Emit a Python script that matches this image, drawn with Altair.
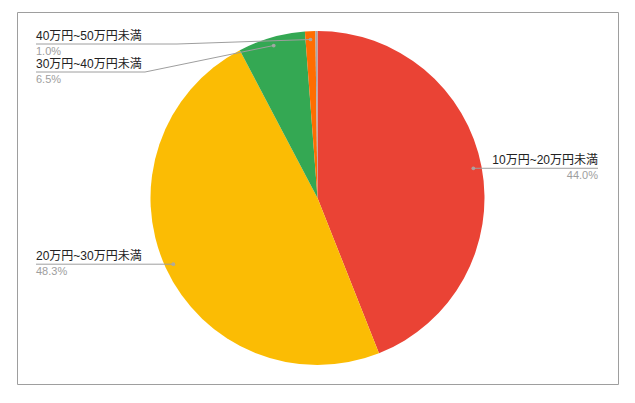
import math

import altair as alt
import pandas as pd

CATEGORIES = [
    "10万円~20万円未満",
    "20万円~30万円未満",
    "30万円~40万円未満",
    "40万円~50万円未満",
    "50万円以上",
]
SHARES = [44.0, 48.3, 6.5, 1.0, 0.2]
COLOURS = ["#EA4335", "#FBBC04", "#34A853", "#FF6D01", "#A3A9AD"]

# label layout: which side, and (for the crowded top-left ones) where the label line sits
SIDES = ["right", "left", "left", "left", None]
LABEL_Y = [None, None, 60, 32, None]
ELBOW_X = [None, None, 128, 160, None]

W, H = 601, 372
R = 167
CX, CY = W / 2, H / 2
LEFT_X, RIGHT_X = 19, 581
FONT = "'Liberation Sans', Arial, 'Noto Sans CJK JP', sans-serif"


def build_frames():
    slices = pd.DataFrame(
        {"Kategori": CATEGORIES, "Andel": SHARES, "Rekkefølge": range(len(SHARES))}
    )

    labels, segments = [], []
    cum = 0.0
    for cat, share, side, ly, ex in zip(CATEGORIES, SHARES, SIDES, LABEL_Y, ELBOW_X):
        mid = 2 * math.pi * (cum + share / 2) / 100
        cum += share
        if side is None:
            continue
        dx = CX + 0.95 * R * math.sin(mid)
        dy = CY - 0.95 * R * math.cos(mid)
        line_y = dy if ly is None else ly
        text_x = RIGHT_X if side == "right" else LEFT_X
        elbow_x = dx if ex is None else ex
        labels.append(
            {
                "Kategori": cat,
                "Prosent": f"{share:.1f}%",
                "dot_x": dx,
                "dot_y": dy,
                "tx": text_x,
                "ty": line_y,
                "side": side,
            }
        )
        segments.append({"x": text_x, "y": line_y, "x2": elbow_x, "y2": line_y})
        segments.append({"x": elbow_x, "y": line_y, "x2": dx, "y2": dy})
    return slices, pd.DataFrame(labels), pd.DataFrame(segments)


def plot_pie(slices, labels, segments):
    xs = alt.Scale(domain=[0, W], range=[0, W], nice=False, zero=False)
    ys = alt.Scale(domain=[0, H], range=[0, H], nice=False, zero=False)

    pie = (
        alt.Chart(slices)
        .mark_arc(radius=R)
        .encode(
            theta=alt.Theta("Andel:Q", stack=True),
            order=alt.Order("Rekkefølge:Q"),
            color=alt.Color(
                "Kategori:N",
                scale=alt.Scale(domain=CATEGORIES, range=COLOURS),
                legend=None,
            ),
        )
    )

    rules = (
        alt.Chart(segments)
        .mark_rule(color="#9e9e9e", strokeWidth=1)
        .encode(
            x=alt.X("x:Q", scale=xs, axis=None),
            y=alt.Y("y:Q", scale=ys, axis=None),
            x2="x2:Q",
            y2="y2:Q",
        )
    )

    dots = (
        alt.Chart(labels)
        .mark_circle(size=14, color="#a8a8a8", opacity=0.9)
        .encode(
            x=alt.X("dot_x:Q", scale=xs, axis=None),
            y=alt.Y("dot_y:Q", scale=ys, axis=None),
        )
    )

    layers = [pie, rules, dots]
    for side, align in (("left", "left"), ("right", "right")):
        part = labels[labels["side"] == side]
        base = alt.Chart(part).encode(
            x=alt.X("tx:Q", scale=xs, axis=None),
            y=alt.Y("ty:Q", scale=ys, axis=None),
        )
        layers.append(
            base.mark_text(
                align=align, baseline="alphabetic", dy=-4, font=FONT,
                fontSize=12, color="#222222",
            ).encode(text="Kategori:N")
        )
        layers.append(
            base.mark_text(
                align=align, baseline="alphabetic", dy=11, font=FONT,
                fontSize=11, color="#9e9e9e",
            ).encode(text="Prosent:N")
        )

    chart = (
        alt.layer(*layers)
        .properties(
            width=W,
            height=H,
            autosize="none",
            padding={"left": 9, "top": 4, "right": 2, "bottom": 2},
            background="white",
        )
        .configure_view(stroke="#9e9e9e", strokeWidth=1)
    )
    return chart


slices, labels, segments = build_frames()
chart = plot_pie(slices, labels, segments)
chart.save("out.html", embed_options={"renderer": "svg", "actions": False})
